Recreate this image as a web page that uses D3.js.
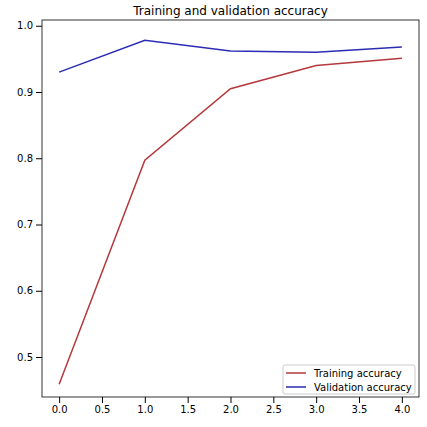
<!DOCTYPE html>
<html><head><meta charset="utf-8">
<script src="https://d3js.org/d3.v7.min.js"></script>
<style>body{margin:0;background:#fff}text{font-family:"DejaVu Sans",sans-serif}</style>
</head><body><svg width="427" height="427"></svg>
<script>
const epochs = [0, 1, 2, 3, 4];
const trainAcc = [0.459, 0.797, 0.905, 0.940, 0.951];
const valAcc = [0.930, 0.978, 0.962, 0.960, 0.968];
const xTicks = [0, 0.5, 1, 1.5, 2, 2.5, 3, 3.5, 4];
const yTicks = [0.5, 0.6, 0.7, 0.8, 0.9, 1.0];

const svg = d3.select("svg");
const L = 42, R = 419, T = 20, B = 397;
const x = d3.scaleLinear().domain([-0.2, 4.2]).range([L, R]);
const y = d3.scaleLinear().domain([0.5, 0.9]).range([357, 92]);

svg.append("g").attr("transform", `translate(0,${B})`)
  .call(d3.axisBottom(x).tickValues(xTicks).tickFormat(d3.format(".1f")).tickSizeOuter(0))
  .call(g => g.selectAll("text").attr("font-size", 10).attr("fill", "#000"));
svg.append("g").attr("transform", `translate(${L},0)`)
  .call(d3.axisLeft(y).tickValues(yTicks).tickFormat(d3.format(".1f")).tickSizeOuter(0))
  .call(g => g.selectAll("text").attr("font-size", 10).attr("fill", "#000"));
svg.selectAll(".domain").remove();
svg.append("rect").attr("x", L).attr("y", T).attr("width", R - L).attr("height", B - T)
  .attr("fill", "none").attr("stroke", "#000").attr("stroke-width", 0.8);

const line = d3.line().x((d, i) => x(epochs[i])).y(d => y(d));
svg.append("path").datum(trainAcc).attr("d", line).attr("fill", "none").attr("stroke", "#b5383c").attr("stroke-width", 1.5);
svg.append("path").datum(valAcc).attr("d", line).attr("fill", "none").attr("stroke", "#2b2bb5").attr("stroke-width", 1.5);

svg.append("text").attr("x", (L + R) / 2).attr("y", 15).attr("text-anchor", "middle")
  .attr("font-size", 12).text("Training and validation accuracy");

const lg = svg.append("g").attr("transform", "translate(283,365)");
lg.append("rect").attr("width", 132).attr("height", 29).attr("rx", 2)
  .attr("fill", "#fff").attr("stroke", "#ccc");
[["Training accuracy", "#b5383c"], ["Validation accuracy", "#2b2bb5"]].forEach((d, i) => {
  lg.append("line").attr("x1", 3).attr("x2", 23).attr("y1", 8 + i * 14).attr("y2", 8 + i * 14)
    .attr("stroke", d[1]).attr("stroke-width", 1.5);
  lg.append("text").attr("x", 31).attr("y", 11.5 + i * 14).attr("font-size", 10).text(d[0]);
});
</script></body></html>
